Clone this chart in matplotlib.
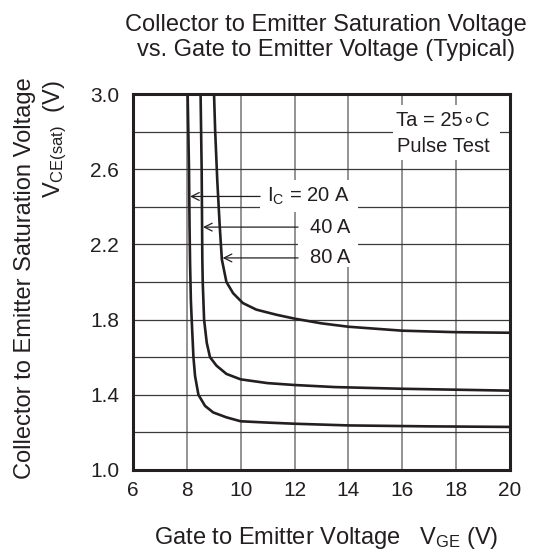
import matplotlib
matplotlib.use("Agg")
import matplotlib.pyplot as plt
from matplotlib.patches import Rectangle


plt.rcParams["font.family"] = ["Liberation Sans", "DejaVu Sans"]
plt.rcParams["mathtext.fontset"] = "custom"
plt.rcParams["mathtext.rm"] = "Liberation Sans"
plt.rcParams["mathtext.it"] = "Liberation Sans"

# VCE(sat) vs VGE curves (typical, Ta = 25 C)
vge_20a = [8.03, 8.08, 8.10, 8.12, 8.15, 8.18, 8.245, 8.305, 8.43, 8.675, 8.98,
           9.47, 10.0, 11.0, 12.0, 14.0, 17.0, 20.0]
vce_20a = [3.0, 2.6, 2.3, 2.1, 1.9, 1.8, 1.6, 1.5, 1.4, 1.341, 1.306,
           1.28, 1.259, 1.252, 1.246, 1.237, 1.232, 1.229]

vge_40a = [8.51, 8.55, 8.575, 8.59, 8.64, 8.74, 8.86, 9.1, 9.47, 10.0, 11.0,
           12.0, 13.5, 16.0, 20.0]
vce_40a = [3.0, 2.6, 2.12, 2.0, 1.8, 1.676, 1.6, 1.555, 1.511, 1.482, 1.462,
           1.452, 1.441, 1.432, 1.422]

vge_80a = [9.01, 9.05, 9.13, 9.22, 9.3, 9.47, 9.72, 10.08, 10.58, 11.32, 12.0,
           13.0, 14.0, 16.0, 18.0, 20.0]
vce_80a = [3.0, 2.81, 2.54, 2.30, 2.12, 2.0, 1.94, 1.888, 1.853, 1.826, 1.805,
           1.78, 1.762, 1.741, 1.733, 1.73]

x_ticks = [6, 8, 10, 12, 14, 16, 18, 20]
y_ticks = [1.0, 1.4, 1.8, 2.2, 2.6, 3.0]
y_grid = [1.2, 1.4, 1.6, 1.8, 2.0, 2.2, 2.4, 2.6, 2.8]

# label text, arrow tip (on the curve), arrow start
ic_labels = [r"$\mathregular{I_C}$ = 20 A", "40 A", "80 A"]
tip_x = [8.12, 8.6, 9.33]
tip_y = [2.455, 2.292, 2.128]
start_x = [10.72, 12.13, 12.13]


fig = plt.figure(figsize=(5.36, 5.55), dpi=100)
ax = fig.add_axes([0.2481, 0.1532, 0.7034, 0.6774])

for x in x_ticks[1:-1]:
    ax.axvline(x, color="#8a8a8a", lw=1.3, zorder=1)
for y in y_grid:
    ax.axhline(y, color="#3a3a3a", lw=0.9, zorder=1)

# white blanks behind the labels, cutting the grid as in the datasheet
blanks = [(10.72, 2.372, 3.63, 0.171), (12.13, 2.08, 2.22, 0.298),
          (15.65, 2.649, 3.98, 0.292)]
for bx, by, bw, bh in blanks:
    ax.add_patch(Rectangle((bx, by), bw, bh, fc="white", ec="none", zorder=2))

for xs, ys in [(vge_20a, vce_20a), (vge_40a, vce_40a), (vge_80a, vce_80a)]:
    ax.plot(xs, ys, color="#231f20", lw=1.9, zorder=4, solid_joinstyle="round")

for label, tx, ty, sx in zip(ic_labels, tip_x, tip_y, start_x):
    ax.annotate("", xy=(tx, ty), xytext=(sx, ty),
                arrowprops=dict(arrowstyle="->", color="#231f20", lw=0.9,
                                shrinkA=0, shrinkB=0, mutation_scale=14),
                zorder=3)
    ax.text(14.06, ty, label, fontsize=14.5, ha="right", va="center", zorder=3,
            color="#231f20")

ax.text(17.52, 2.79, "Ta = 25\u2218C\nPulse Test", fontsize=14.5, ha="center",
        va="center", linespacing=1.45, zorder=3, color="#231f20")

ax.set_xlim(6, 20)
ax.set_ylim(1.0, 3.0)
ax.set_xticks(x_ticks)
ax.set_yticks(y_ticks)
ax.set_yticklabels([f"{v:.1f}" for v in y_ticks])
ax.tick_params(length=0, labelsize=15, pad=8, colors="#231f20")
ax.tick_params(axis="y", pad=10)
for sp in ax.spines.values():
    sp.set_linewidth(2.2)
    sp.set_color("#231f20")
    sp.set_zorder(5)

fig.text(0.608, 0.955, "Collector to Emitter Saturation Voltage",
         fontsize=17, ha="center", va="center", color="#231f20")
fig.text(0.608, 0.91, "vs. Gate to Emitter Voltage (Typical)",
         fontsize=17, ha="center", va="center", color="#231f20")

fig.text(0.0466, 0.499, "Collector to Emitter Saturation Voltage",
         fontsize=17, rotation=90, ha="center", va="center", color="#231f20")
fig.text(0.1026, 0.856, r"$\mathregular{V_{CE(sat)}}$  (V)",
         fontsize=17, rotation=90, ha="center", va="top", color="#231f20")

fig.text(0.608, 0.0306, r"Gate to Emitter Voltage   $\mathregular{V_{GE}}$ (V)",
         fontsize=17, ha="center", va="center", color="#231f20")

fig.savefig("out.png", dpi=100)
